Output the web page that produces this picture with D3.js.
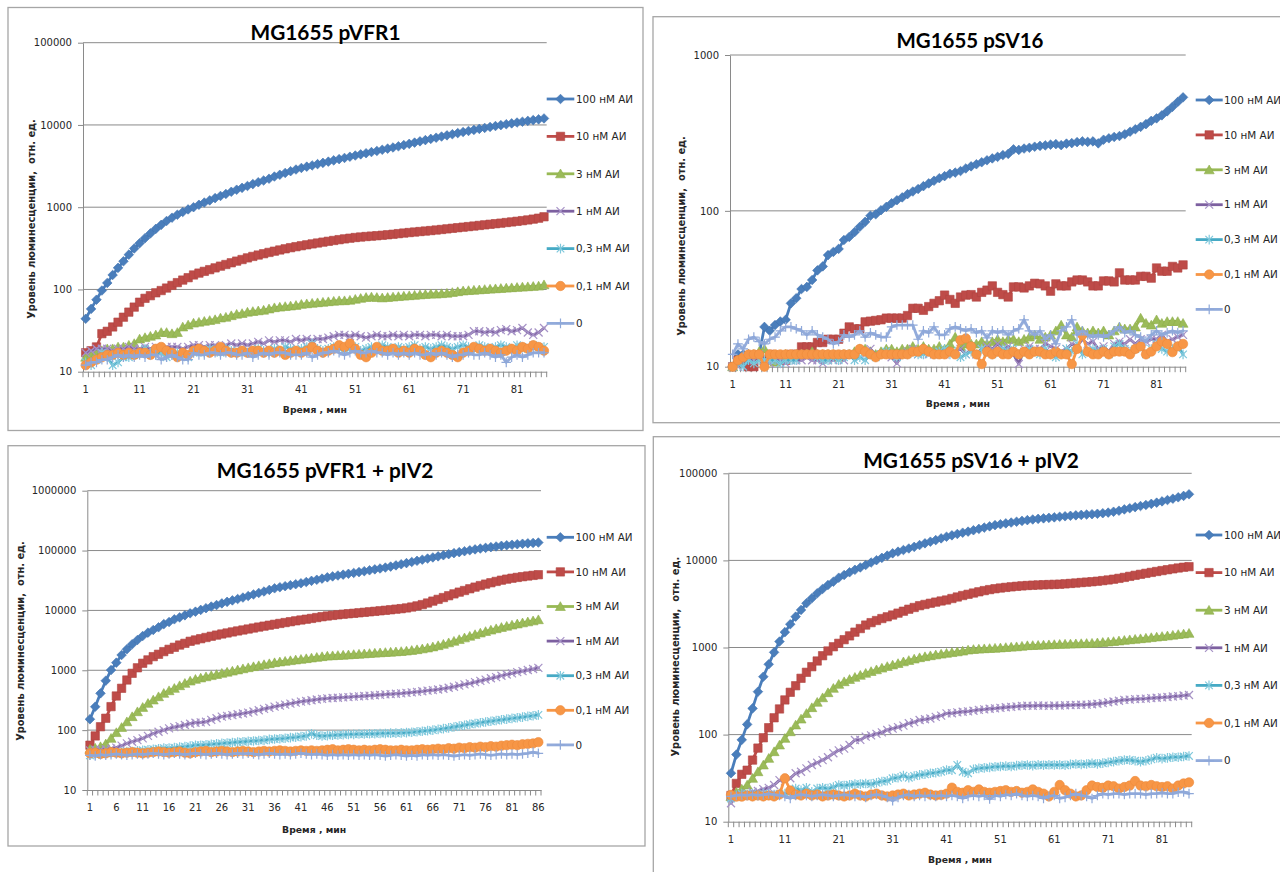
<!DOCTYPE html>
<html>
<head>
<meta charset="utf-8">
<script src="https://cdn.jsdelivr.net/npm/d3@7"></script>
<style>
body{margin:0;background:#fff;overflow:hidden;}
svg{display:block;}
</style>
</head>
<body>
<svg id="c" width="1280" height="872"></svg>
<script>
// ---------- categories & tick labels ----------
const minutes = [1,2,3,4,5,6,7,8,9,10,11,12,13,14,15,16,17,18,19,20,21,22,23,24,25,26,27,28,29,30,31,32,33,34,35,36,37,38,39,40,41,42,43,44,45,46,47,48,49,50,51,52,53,54,55,56,57,58,59,60,61,62,63,64,65,66,67,68,69,70,71,72,73,74,75,76,77,78,79,80,81,82,83,84,85,86];
const xLabelsBy10 = [1,11,21,31,41,51,61,71,81];
const xLabelsBy5 = [1,6,11,16,21,26,31,36,41,46,51,56,61,66,71,76,81,86];
const yTicksP1 = [10,100,1000,10000,100000];
const yTicksP2 = [10,100,1000];
const yTicksP3 = [10,100,1000,10000,100000,1000000];
const yTicksP4 = [10,100,1000,10000,100000];
const seriesNames = ["100 нМ АИ","10 нМ АИ","3 нМ АИ","1 нМ АИ","0,3 нМ АИ","0,1 нМ АИ","0"];
const panelTitles = ["MG1655 pVFR1","MG1655 pSV16","MG1655 pVFR1 + pIV2","MG1655 pSV16 + pIV2"];
const xAxisTitle = "Время , мин";
const yAxisTitle = "Уровень люминесценции,  отн. ед.";

// ---------- Panel 1: MG1655 pVFR1 ----------
const p1_100 = [44,58,75,97,120,150,183,220,265,315,
365,420,480,545,610,680,745,810,875,940,
1000,1070,1140,1210,1290,1370,1450,1540,1630,1720,
1810,1910,2010,2110,2220,2360,2480,2610,2740,2870,
3000,3110,3220,3340,3460,3580,3710,3840,3970,4110,
4250,4390,4530,4680,4830,4990,5150,5320,5500,5690,
5890,6100,6320,6540,6770,7000,7230,7470,7710,7960,
8200,8450,8700,8950,9200,9450,9700,9950,10200,10450,
10700,10950,11200,11450,11700,12000];
const p1_10 = [17,18,20,29,31,35,40,46,53,61,
70,78,84,91,97,104,112,121,130,139,
150,158,166,174,183,192,201,211,221,231,
242,252,262,272,282,292,302,312,322,331,
340,349,358,367,376,385,394,403,412,420,
428,434,440,445,450,456,462,469,477,485,
492,499,506,513,520,528,536,545,554,563,
572,581,590,600,610,620,630,640,651,662,
674,686,700,716,735,765];
const p1_3 = [15,16,17,18,19,19,20,20,21,22,
25,26,27,28,30,30,29,30,35,37,
39,40,41,42,43,45,46,48,50,51,
53,54,55,56,58,60,61,62,63,64,
66,67,68,69,70,71,72,73,73,74,
76,78,80,81,80,79,80,81,82,83,
84,85,86,87,88,88,89,90,92,94,
96,97,98,99,100,101,102,103,104,105,
106,107,108,109,110,114];
const p1_1 = [17,18,19,19,19,18,19,19,20,19,
19,20,19,20,19,20,20,20,19,20,
21,21,20,21,21,20,21,22,21,22,
21,22,23,22,24,23,24,24,23,25,
24,25,24,25,25,26,27,28,28,27,
28,27,26,27,28,27,27,28,27,28,
27,28,28,27,28,28,27,28,27,27,
27,28,31,31,30,31,30,32,33,31,
32,34,30,28,30,34];
const p1_03 = [13,12,14,17,15,12,13,15,15,16,
17,19,17,16,17,15,16,17,16,15,
17,18,17,19,18,17,19,18,17,18,
17,18,19,18,17,19,18,20,19,18,
19,20,22,19,18,19,20,19,18,19,
20,18,19,20,19,21,20,19,20,19,
20,21,19,20,19,20,21,20,19,20,
21,20,19,21,20,19,20,21,20,19,
21,20,19,21,20,20];
const p1_01 = [12,13,14,15,16,16,17,16,17,16,
17,17,16,19,20,18,17,15,17,16,
18,19,18,17,18,20,18,17,17,18,
17,18,18,17,18,17,18,16,17,18,
17,18,20,18,17,18,19,21,20,22,
19,16,15,17,20,18,18,19,17,18,
17,19,18,16,15,17,18,17,16,15,
17,18,20,19,18,19,18,17,18,19,
18,20,19,21,20,18];
const p1_0 = [12,13,13,14,14,15,16,15,16,15,
16,15,16,16,14,15,16,15,14,14,
17,16,16,17,17,16,17,17,16,16,
17,15,16,17,16,17,17,17,16,16,
16,17,15,16,17,17,18,17,16,17,
18,17,17,18,17,17,16,17,16,17,
16,17,16,16,17,16,17,16,15,16,
16,17,16,16,17,16,15,16,13,15,
16,15,16,17,17,17];

// ---------- Panel 2: MG1655 pSV16 ----------
const p2_100 = [10,12,12,12,11.5,12,18,17,18.5,19.5,
20,25.5,27.5,31.5,32.5,36,41.5,44,52,54.5,
57,65,68,73,79,85,93,95,101,106,
112,117,122,128,133,138,144,150,156,162,
167,173,176,180,187,193,199,205,211,217,
222,228,232,248,246,251,254,258,261,263,
266,268,264,270,272,276,279,277,279,271,
286,292,298,302,310,322,334,346,360,378,
392,410,435,465,500,535];
const p2_10 = [10,11,11,10,10,11.5,11,12,11,11,
11,12,12,13.4,13.4,13.4,14.3,14.3,15,15,
15,16.4,18,17.5,17.5,19.4,19.6,19.8,20,20.5,
20.5,20.5,20.5,21.3,23.7,23.7,23,24.3,25.5,26.5,
28.8,27,25.5,28,28.8,29,28,30,31,33,
30,29,28,32.5,32.5,32,33,34.3,34,33,
30.5,34,33,33,35,36,36,35,33,33,
35.5,35.5,35,40,36,36,36,38,38,37,
43,41,41,44,43,45];
const p2_3 = [10,11,11.5,12,12,12.5,13,11,10.7,11.5,
12,11.5,12,12,12,12.5,12,12,12,12,
11.5,12,12,12.5,13,13,12.5,12,12.5,13,
13,12.5,13,13,13.5,13,13.5,13,13,13.5,
13,14,15.5,13.5,14,14,14,14.5,14,14.5,
15,14.5,15,15,14.5,15,15.5,16,15,15.5,
16,17,18.5,16,15.5,18,17,16.5,17,16.5,
17,16,17,18,17.5,17.5,18,20.5,19,18.5,
20,19,19.5,19.5,19.5,19];
const p2_1 = [10,10,11,11,11,12,11,10.5,11,11,
10.5,11,11,11,11.5,11,11,10.5,11,11,
12,11,12,12,12.5,12,13,12,12,12,
11.5,10.5,12,12.5,13,12,12.5,12,12,12.5,
12,12,12.5,13,12,13,12,13,13.5,13,
14,13,13.5,12,10.4,13,13.5,13,13,14,
13.5,13,12.5,13,14,13.5,15,14,14.5,13,
13.5,12.5,14,14.5,14,15,14,15,14.5,15,
15,16,14.5,15,15.5,16];
const p2_03 = [10,10.5,10,11,10.5,11,11,11,11,10.5,
11,11,11,12,12,12,11.5,11,11,11.5,
11,11.5,12,11,11.5,11,12,11.5,12,12.5,
12,11.5,12,12,12.5,12,12,12.5,12,12.5,
13,12,12.5,11.5,12,12.5,12,13,12.5,12,
12.5,13,12.5,13,12,12.5,13,12.5,12,13,
12,11.5,12,13,12.5,14,12,12.5,13,12.5,
13,12,13.5,14,13,12.5,13,13.5,12,13,
14,13,12.5,13,13.5,12];
const p2_01 = [10,11,11.5,12,12,12,10,12,12,12,
12,12,12,12,12,12,12,12,12,12,
12,12,12,12,13,12.5,12,11.5,12,12,
12,12,12,12,12.5,12.5,13,12.5,12,12,
12,12.5,12,14.8,15.2,13.5,12,10.4,12.5,12,
12.5,12,12,12.5,12,12.5,12,12.5,12.5,12,
12,12.5,12,12,10.4,13,16,12.5,12,12,
12.5,12,12.5,12.5,12.5,12,13,13.5,12,12.5,
13.5,14.5,14,12.4,13.5,14];
const p2_0 = [12,14,13,15,15.5,14.5,14,15,15.5,17,
18,18,17.5,17,16,17,16,15.5,15,14,
14.5,16,15.5,16,17,15.5,16.5,16,15.5,15.5,
18,18.5,18.5,18.5,18.5,15,17,16.5,18,16,
16,17.5,18,17.5,17,17.5,16.5,17,15.3,17,
16.5,17,16,17,17.5,20,17,16,17,15,
16,14,17,18,20,16,17,16,15.5,16,
15.5,16,17,18,16.5,17,16,15.5,14.6,16,
17,16,16.5,17,16.5,17];

// ---------- Panel 3: MG1655 pVFR1 + pIV2 ----------
const p3_100 = [152,246,412,670,1010,1340,1800,2240,2720,3200,
3740,4250,4710,5220,5900,6400,7100,7650,8280,8950,
9530,10200,10900,11600,12300,13100,13900,14700,15500,16400,
17400,18500,19600,20700,22000,23400,24400,25400,26400,27400,
28400,29800,31200,32500,34000,35700,37000,38300,39600,40900,
42300,43700,45200,46800,48500,50200,52000,54000,56500,59000,
61700,64500,67400,70400,73500,76700,80000,83500,87000,90500,
94000,97500,101000,104500,108000,111000,114000,117000,120000,122500,
125000,127500,130000,132000,134000,136000];
const p3_10 = [56,80,114,158,247,372,500,688,890,1100,
1310,1490,1690,1850,2050,2240,2420,2640,2820,3050,
3210,3370,3530,3700,3870,4040,4200,4370,4540,4710,
4890,5080,5270,5460,5660,5860,6060,6270,6480,6700,
6920,7130,7350,7600,7850,8070,8260,8450,8640,8800,
8950,9120,9300,9480,9660,9850,10050,10250,10500,10700,
11000,11400,11900,12500,13300,14300,15300,16400,17600,18900,
20200,21500,23000,24500,26000,27500,29000,30500,32000,33300,
34500,35600,36600,37600,38500,39500];
const p3_3 = [48,50,53,59,73,91,111,138,168,203,
240,280,319,362,412,456,499,553,605,662,
706,745,780,815,850,890,930,970,1015,1060,
1105,1150,1195,1245,1290,1340,1380,1415,1450,1490,
1525,1565,1605,1645,1690,1730,1750,1770,1790,1810,
1835,1860,1885,1910,1935,1960,1985,2010,2035,2060,
2100,2150,2210,2280,2360,2460,2580,2720,2880,3060,
3260,3480,3710,3950,4200,4450,4700,4950,5200,5450,
5700,5950,6200,6450,6700,7000];
const p3_1 = [46,47,47,48,49,51,55,60,64,68,
73,80,88,94,100,107,112,117,122,128,
133,135,138,148,158,168,173,178,184,190,
196,205,215,226,236,247,257,267,278,288,
299,307,316,325,333,340,344,348,352,357,
362,367,372,377,383,389,395,400,406,412,
420,428,437,446,456,466,478,492,510,530,
555,580,605,635,665,700,735,770,810,850,
890,930,970,1010,1050,1100];
const p3_03 = [38,39,40,41,42,42,43,44,44,45,
46,47,48,49,50,50,51,52,53,54,
56,56,57,58,59,60,61,62,63,64,
65,66,67,68,70,71,72,73,75,76,
78,80,87,82,80,81,82,83,84,85,
85,86,86,87,87,88,88,89,89,90,
91,92,94,96,98,100,103,106,109,113,
117,121,125,129,133,137,141,145,149,153,
157,161,165,170,174,180];
const p3_01 = [41,42,40,41,43,42,41,42,43,42,
41,42,43,44,43,42,43,44,42,41,
43,44,45,43,44,45,44,43,44,45,
44,43,44,45,44,45,46,45,44,45,
46,45,46,45,46,47,48,46,47,48,
47,46,47,46,47,48,47,46,46,47,
46,46,47,48,47,48,49,48,50,49,
51,50,52,51,53,52,54,53,55,56,
57,56,58,59,60,63];
const p3_0 = [38,37,39,38,39,40,39,38,39,40,
39,40,41,40,39,40,41,40,39,40,
41,40,39,40,41,40,39,40,41,40,
41,40,39,40,41,40,39,40,39,40,
41,40,39,40,39,38,39,38,39,38,
39,38,39,38,39,38,37,38,39,38,
37,38,37,39,38,39,38,39,38,37,
38,39,38,39,40,39,38,39,40,39,
40,39,40,41,43,41];

// ---------- Panel 4: MG1655 pSV16 + pIV2 ----------
const p4_100 = [36,59,87,131,200,311,462,641,880,1170,
1500,1850,2260,2700,3220,3670,4190,4700,5220,5690,
6330,6800,7300,7800,8300,8850,9450,10050,10700,11350,
12050,12600,13150,13700,14300,15000,15700,16400,17100,17900,
18700,19400,20100,20800,21400,22200,23000,23800,24600,25400,
26000,26600,27200,27800,28400,29000,29500,30000,30400,30800,
31200,31700,32100,32500,32900,33300,33600,33900,34300,34800,
35400,36200,37200,38500,39700,40900,42100,43300,44600,46000,
47600,49300,51100,53000,55000,57400];
const p4_10 = [20,27.5,35,39,51,70,92,120,156,197,
250,306,364,443,519,602,700,805,912,1020,
1117,1230,1360,1500,1650,1810,1930,2040,2150,2250,
2360,2480,2610,2750,2880,3020,3120,3220,3320,3420,
3510,3650,3800,3950,4080,4220,4360,4500,4620,4730,
4820,4900,4970,5040,5100,5150,5190,5220,5250,5280,
5300,5330,5380,5440,5500,5570,5630,5690,5770,5860,
5960,6080,6220,6380,6560,6740,6920,7100,7280,7460,
7640,7820,8000,8180,8350,8470];
const p4_3 = [19.4,21.8,23.7,26.4,31.5,37.5,44.8,53.4,63.7,76,
90.6,108,129,151,175,204,235,265,303,340,
378,405,430,455,480,506,530,555,580,605,
630,655,685,710,738,764,785,805,823,840,
858,875,892,910,936,950,960,968,975,982,
990,1000,1010,1020,1035,1050,1055,1060,1068,1075,
1082,1088,1093,1098,1103,1108,1114,1120,1132,1145,
1158,1172,1190,1210,1228,1245,1262,1280,1300,1320,
1340,1360,1385,1410,1430,1455];
const p4_1 = [16.3,19.4,20.3,21,22,22.5,23.7,24.5,26.4,30,
29,31.5,36,37.5,41,44.8,47.5,51,55,61,
66,69,76,86.8,87,94.6,98,102,106,113,
117,122,127,135,139,147,150,153,160,165,
175,176,180,183,185,188,192,195,198,200,
203,206,208,211,213,215,214,216,215,214,
216,215,217,218,219,220,221,223,226,230,
235,240,245,250,252,255,257,259,262,265,
268,270,274,277,281,285];
const p4_03 = [18.5,20,21,20.5,21,20,21,20.5,20,21,
21,21.5,24,23,24.5,22,24,24.5,24,25,
26.4,26,26.5,27,27,27.5,27,28,29,29.5,
31.5,32,33.8,32,33.5,34.5,35,36,36.5,37.5,
39.2,39,44.8,37.5,36,40,41,41.5,42,42.8,
43,43.5,43,44,44.5,44.8,44,45,44.5,45,
44.8,45,44.5,45.5,46,45.5,46,46.8,46,47,
48,49,50,51,51,50,49,50,52,54.3,
53,54,55,55,56,56.8];
const p4_01 = [20.3,19.4,19.4,20,19.5,20,19.5,20,19.5,20.5,
31.5,22.8,20.5,20,21,20,20.5,19.5,20,20.5,
20,19.5,20,21,20,19.5,20.5,21,20,19.5,
20,20.5,21,20,20.5,21,21.5,20.5,20,20.3,
21,24.6,22,21.5,23,22,23.5,22,21.5,22,
22.5,23,22,22.5,21.5,22,23.5,22,21,19.5,
22,26.4,23,21,19.5,20,23,26,25,24.5,
26,25.5,24,25,26,29.3,26,25.5,26.4,25.5,
25,25.5,24,26,27.5,28.3];
const p4_0 = [19.5,20,20.3,20,20.5,20,20.3,21,20.5,20,
19.5,18.5,20,20.5,20,19.5,20,20.5,20,19.5,
20,20.5,20,19.5,20,19,20,20.5,20,19,
17.4,19,20,20.5,19.5,20,19.5,20,19.5,20,
19.5,20,19.5,18.5,19.5,20,19.5,20,18.2,20,
19.5,20.5,20,21,20,19.5,20,19.5,18.5,19.5,
20,18.5,19,20,21,20,19.5,18.5,20,21,
20.5,21,21,20.5,21,21,21,20.5,21,21,
21.5,21,21,21.8,22,21];

// ---------- styles ----------
const seriesStyles = [
  {line:"#4a7ebb", shape:"diamond",  fill:"#4a7ebb", stroke:"#4072b0", sw:0.6},
  {line:"#be4b48", shape:"square",   fill:"#be4b48", stroke:"#b04542", sw:0.6},
  {line:"#98b954", shape:"triangle", fill:"#9bbb59", stroke:"#8eae4c", sw:0.6},
  {line:"#7d60a0", shape:"x",        fill:"none",    stroke:"#a692c6", sw:1.2},
  {line:"#46aac5", shape:"star",     fill:"none",    stroke:"#7fc8dc", sw:1.2},
  {line:"#f79646", shape:"circle",   fill:"#f79646", stroke:"#ec8a3a", sw:0.6},
  {line:"#92abdb", shape:"plus",     fill:"none",    stroke:"#8ea8d9", sw:1.2}
];
const shapePaths = {
  diamond: "M0,-4.8L4.8,0L0,4.8L-4.8,0Z",
  square: "M-4.2,-4.2H4.2V4.2H-4.2Z",
  triangle: "M0,-4.8L5,4H-5Z",
  x: "M-4,-4L4,4M-4,4L4,-4",
  star: "M-3.8,-3.8L3.8,3.8M-3.8,3.8L3.8,-3.8M0,-4.8V4.8",
  circle: "M-4.7,0A4.7,4.7 0 1,0 4.7,0A4.7,4.7 0 1,0 -4.7,0Z",
  plus: "M0,-4.8V4.8M-4.8,0H4.8"
};

const panels = [
  {title:panelTitles[0], series:[p1_100,p1_10,p1_3,p1_1,p1_03,p1_01,p1_0], yTicks:yTicksP1, xLabels:xLabelsBy10,
   frame:{x:8,y:7.5,w:635,h:423}, plot:{l:83,r:546.7,t:42.7,b:371.7},
   titleCx:325.5, titleY:40, titleW:150, yTitleX:32, yTitleCy:219, xTitleY:413,
   legend:{x1:546.7,x2:574.3,tx:576,y0:99,dy:37.4}},
  {title:panelTitles[1], series:[p2_100,p2_10,p2_3,p2_1,p2_03,p2_01,p2_0], yTicks:yTicksP2, xLabels:xLabelsBy10,
   frame:{x:653,y:16.7,w:640,h:406}, plot:{l:730,r:1185.7,t:55,b:366.7},
   titleCx:970, titleY:48.3, titleW:147, yTitleX:681.7, yTitleCy:236, xTitleY:407,
   legend:{x1:1195.7,x2:1222.7,tx:1224,y0:100,dy:34.9}},
  {title:panelTitles[2], series:[p3_100,p3_10,p3_3,p3_1,p3_03,p3_01,p3_0], yTicks:yTicksP3, xLabels:xLabelsBy5,
   frame:{x:8,y:445.7,w:637,h:400.3}, plot:{l:87.3,r:541,t:490.7,b:790},
   titleCx:325, titleY:478, titleW:216.6, yTitleX:21, yTitleCy:641, xTitleY:833,
   legend:{x1:546.7,x2:574,tx:575.5,y0:537.3,dy:34.6}},
  {title:panelTitles[3], series:[p4_100,p4_10,p4_3,p4_1,p4_03,p4_01,p4_0], yTicks:yTicksP4, xLabels:xLabelsBy10,
   frame:{x:653.3,y:436.7,w:640,h:460}, plot:{l:728.3,r:1191.7,t:473.3,b:821.7},
   titleCx:971, titleY:468.3, titleW:215.7, yTitleX:675.7, yTitleCy:656.7, xTitleY:862.7,
   legend:{x1:1195.7,x2:1222.3,tx:1224,y0:535,dy:37.6}}
];

const svg = d3.select("#c");
const TICK_FONT = "'DejaVu Sans', Verdana, sans-serif";
const GRID = "#8a8a8a";

function fitWidth(sel, target) {
  const len = sel.node().getComputedTextLength();
  const fs = parseFloat(sel.attr("font-size"));
  if (len > 0) sel.attr("font-size", (fs * target / len).toFixed(2));
}

function drawPanel(cfg) {
  const g = svg.append("g");
  const f = cfg.frame, p = cfg.plot;
  g.append("rect").attr("x", f.x).attr("y", f.y).attr("width", f.w).attr("height", f.h)
    .attr("fill", "#fff").attr("stroke", "#a6a6a6").attr("stroke-width", 1.3);

  const x = d3.scaleBand().domain(minutes).range([p.l, p.r]).padding(0);
  const cx = m => x(m) + x.bandwidth() / 2;
  const y = d3.scaleLog().domain([cfg.yTicks[0], cfg.yTicks[cfg.yTicks.length - 1]]).range([p.b, p.t]);

  // gridlines
  g.append("g").selectAll("line").data(cfg.yTicks.slice(1)).join("line")
    .attr("x1", p.l).attr("x2", p.r).attr("y1", d => y(d)).attr("y2", d => y(d))
    .attr("stroke", GRID).attr("stroke-width", 1);

  // y axis
  const ya = g.append("g").attr("transform", `translate(${p.l},0)`)
    .call(d3.axisLeft(y).tickValues(cfg.yTicks).tickFormat(d3.format("d")).tickSize(5).tickSizeOuter(0).tickPadding(6));
  ya.select(".domain").attr("stroke", GRID);
  ya.selectAll(".tick line").attr("stroke", GRID);
  ya.selectAll("text").attr("font-family", TICK_FONT).attr("font-size", 10).attr("fill", "#262626");

  // x axis: labels at category centers, tick marks at category boundaries
  const xa = g.append("g").attr("transform", `translate(0,${p.b})`)
    .call(d3.axisBottom(x).tickValues(cfg.xLabels).tickSize(0).tickSizeOuter(0).tickPadding(14.3));
  xa.select(".domain").attr("stroke", GRID);
  xa.selectAll("text").attr("font-family", TICK_FONT).attr("font-size", 10).attr("fill", "#262626");
  const bounds = minutes.map(m => x(m)).concat([p.r]);
  g.append("g").selectAll("line").data(bounds).join("line")
    .attr("x1", d => d).attr("x2", d => d).attr("y1", p.b).attr("y2", p.b + 5.5)
    .attr("stroke", GRID).attr("stroke-width", 1);

  // series
  const line = d3.line().x((d, i) => cx(minutes[i])).y(d => y(d));
  cfg.series.forEach((vals, si) => {
    const st = seriesStyles[si];
    const sg = g.append("g");
    sg.append("path").datum(vals).attr("d", line).attr("fill", "none")
      .attr("stroke", st.line).attr("stroke-width", 2.8).attr("stroke-linejoin", "round").attr("stroke-linecap", "round");
    sg.selectAll("path.m").data(vals).join("path").attr("class", "m")
      .attr("transform", (d, i) => `translate(${cx(minutes[i])},${y(d)})`)
      .attr("d", shapePaths[st.shape]).attr("fill", st.fill).attr("stroke", st.stroke).attr("stroke-width", st.sw);
  });

  // legend
  const L = cfg.legend;
  seriesNames.forEach((name, si) => {
    const st = seriesStyles[si];
    const ly = L.y0 + si * L.dy;
    g.append("line").attr("x1", L.x1).attr("x2", L.x2).attr("y1", ly).attr("y2", ly)
      .attr("stroke", st.line).attr("stroke-width", 2.8);
    g.append("path").attr("transform", `translate(${(L.x1 + L.x2) / 2},${ly})`)
      .attr("d", shapePaths[st.shape]).attr("fill", st.fill).attr("stroke", st.stroke).attr("stroke-width", st.sw);
    g.append("text").attr("x", L.tx).attr("y", ly).attr("dy", "0.36em")
      .attr("font-family", TICK_FONT).attr("font-size", 10.4).attr("fill", "#262626").text(name);
  });

  // titles
  const t = g.append("text").attr("x", cfg.titleCx).attr("y", cfg.titleY).attr("text-anchor", "middle")
    .attr("font-family", "Lato, 'Open Sans', sans-serif").attr("font-weight", "bold").attr("font-size", 21)
    .attr("fill", "#000").text(cfg.title);
  fitWidth(t, cfg.titleW);

  const xt = g.append("text").attr("x", (p.l + p.r) / 2).attr("y", cfg.xTitleY).attr("text-anchor", "middle")
    .attr("font-family", TICK_FONT).attr("font-weight", "bold").attr("font-size", 9.2).attr("fill", "#262626")
    .style("white-space", "pre").text(xAxisTitle);
  fitWidth(xt, 64);

  const yt = g.append("text").attr("transform", `translate(${cfg.yTitleX},${cfg.yTitleCy}) rotate(-90)`)
    .attr("text-anchor", "middle").attr("dy", "0.35em")
    .attr("font-family", TICK_FONT).attr("font-weight", "bold").attr("font-size", 9.2).attr("fill", "#262626")
    .style("white-space", "pre").text(yAxisTitle);
  fitWidth(yt, 200);
}

panels.forEach(drawPanel);
</script>
</body>
</html>
